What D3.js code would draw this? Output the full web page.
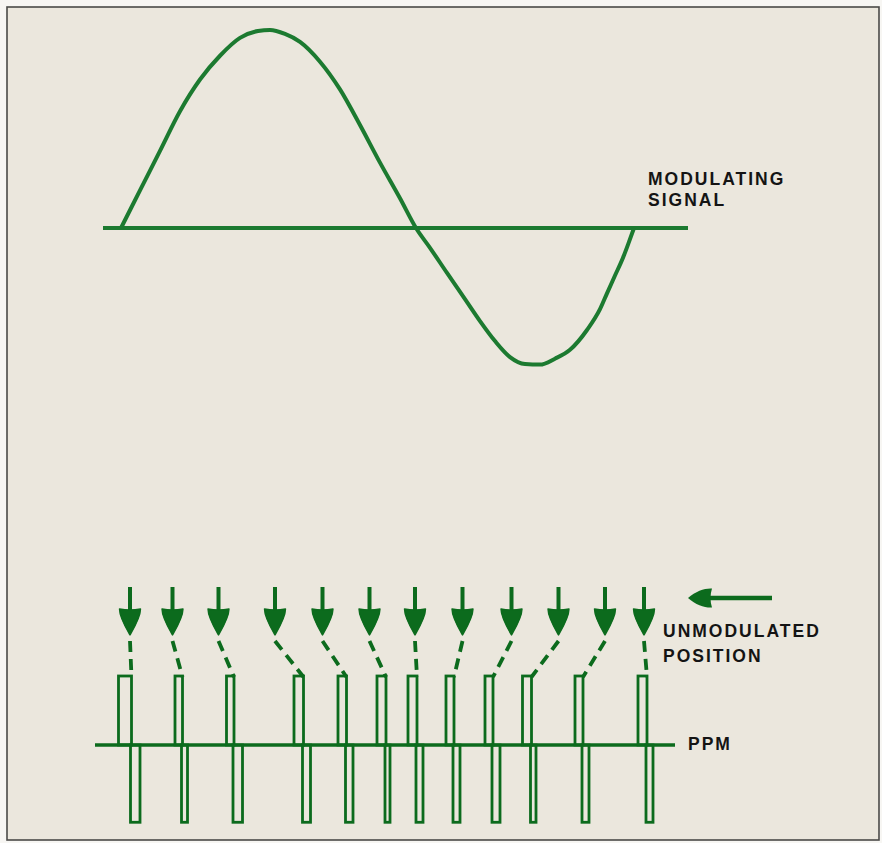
<!DOCTYPE html>
<html>
<head>
<meta charset="utf-8">
<script src="https://cdnjs.cloudflare.com/ajax/libs/d3/7.8.5/d3.min.js"></script>
<style>
  body { margin: 0; background: #f7f6f3; }
  .label { font-family: "Liberation Sans", Arial, sans-serif; font-weight: bold;
           font-size: 17.5px; letter-spacing: 2px; fill: #141414; }
</style>
</head>
<body>
<div id="chart"></div>
<script>
// Time axis in arbitrary units, signal level normalised to peak = 1

// Modulating signal: one cycle, sampled by eye
var sigT = [4.2, 8, 12, 16, 20, 24, 28, 31.6, 34, 37, 40, 44, 48, 52, 56, 60, 63.2,
            66, 69.4, 73, 76, 79, 82, 85, 88, 91, 94, 97.4, 100, 101.4, 103, 104.6, 105.8, 106.8];
var sigV = [0, 0.19, 0.39, 0.59, 0.75, 0.87, 0.96, 0.995, 1.0, 0.98, 0.94, 0.84, 0.70, 0.52, 0.33, 0.15, 0,
            -0.10, -0.227, -0.359, -0.47, -0.571, -0.652, -0.687, -0.69, -0.66, -0.615, -0.515, -0.41, -0.33, -0.24, -0.15, -0.07, 0];

// Unmodulated (clock) positions marked by the arrows
var clockT = [6.0, 14.5, 23.7, 35.0, 44.5, 53.9, 63.0, 72.5, 82.3, 91.7, 101.0, 108.8];

// PPM pulses: rise, edge (where + half ends and - half starts), end
var pulseStart = [3.7, 15.0, 25.3, 38.8, 47.6, 55.4, 61.6, 69.2, 77.0, 84.5, 95.0, 107.6];
var pulseEdge  = [6.3, 16.5, 26.8, 40.7, 49.3, 57.2, 63.4, 70.8, 78.6, 86.3, 96.6, 109.4];
var pulseEnd   = [8.0, 17.5, 28.5, 42.1, 50.6, 58.0, 64.6, 72.0, 80.0, 87.2, 97.8, 110.6];
var pulseHigh = 1, pulseLow = -1.12;

// axis extents
var sigAxis = [0.6, 117.6];
var ppmAxis = [-1, 115];

var labels = [
  { text: "MODULATING", x: 648, y: 185 },
  { text: "SIGNAL", x: 648, y: 206 },
  { text: "UNMODULATED", x: 663, y: 637 },
  { text: "POSITION", x: 663, y: 662 },
  { text: "PPM", x: 688, y: 750 }
];

var width = 882, height = 843;
var green = "#1c7a30", dark = "#0c6b1d";

var svg = d3.select("#chart").append("svg")
    .attr("width", width)
    .attr("height", height);

// Panel
svg.append("rect")
    .attr("x", 7).attr("y", 7)
    .attr("width", 872).attr("height", 833)
    .attr("fill", "#ebe7dd")
    .attr("stroke", "#4a4a48")
    .attr("stroke-width", 1.6);

var x = d3.scaleLinear().domain([0, 120]).range([100, 700]);
var ySig = d3.scaleLinear().domain([-1, 1]).range([426, 30]);
var yPpm = d3.scaleLinear().domain([-1, 1]).range([814, 676]);

// Signal baseline + curve
svg.append("line")
    .attr("x1", x(sigAxis[0])).attr("x2", x(sigAxis[1]))
    .attr("y1", ySig(0)).attr("y2", ySig(0))
    .attr("stroke", green).attr("stroke-width", 4);

var line = d3.line()
    .x(function(d) { return x(d[0]); })
    .y(function(d) { return ySig(d[1]); })
    .curve(d3.curveMonotoneX);

svg.append("path")
    .datum(d3.zip(sigT, sigV))
    .attr("d", line)
    .attr("fill", "none")
    .attr("stroke", green)
    .attr("stroke-width", 4)
    .attr("stroke-linejoin", "round");

// PPM baseline
svg.append("line")
    .attr("x1", x(ppmAxis[0])).attr("x2", x(ppmAxis[1]))
    .attr("y1", yPpm(0)).attr("y2", yPpm(0))
    .attr("stroke", dark).attr("stroke-width", 3.5);

var pulses = pulseStart.map(function(s, i) {
  return { s: s, e: pulseEdge[i], f: pulseEnd[i], c: clockT[i] };
});

var pg = svg.append("g")
    .attr("fill", "none")
    .attr("stroke", dark)
    .attr("stroke-width", 2.8);

// positive half of each pulse
pg.selectAll("rect.up")
    .data(pulses)
  .enter().append("rect")
    .attr("class", "up")
    .attr("x", function(d) { return x(d.s); })
    .attr("y", yPpm(pulseHigh))
    .attr("width", function(d) { return x(d.e) - x(d.s); })
    .attr("height", yPpm(0) - yPpm(pulseHigh));

// negative half
pg.selectAll("rect.down")
    .data(pulses)
  .enter().append("rect")
    .attr("class", "down")
    .attr("x", function(d) { return x(d.e) - 1; })
    .attr("y", yPpm(0))
    .attr("width", function(d) { return x(d.f) - x(d.e) + 1; })
    .attr("height", yPpm(pulseLow) - yPpm(0));

// dashed lines from clock position to the actual pulse
svg.selectAll("line.shift")
    .data(pulses)
  .enter().append("line")
    .attr("class", "shift")
    .attr("x1", function(d) { return x(d.c); })
    .attr("y1", 641)
    .attr("x2", function(d) { return x(d.e); })
    .attr("y2", 677)
    .attr("stroke", dark)
    .attr("stroke-width", 3.8)
    .attr("stroke-dasharray", "11,7");

// arrows marking the unmodulated positions
var arrows = svg.selectAll("g.arrow")
    .data(clockT)
  .enter().append("g")
    .attr("class", "arrow")
    .attr("transform", function(d) { return "translate(" + x(d) + ",0)"; });

arrows.append("line")
    .attr("x1", 0).attr("x2", 0)
    .attr("y1", 587).attr("y2", 612)
    .attr("stroke", dark).attr("stroke-width", 4);

arrows.append("path")
    .attr("d", "M-10.5,609 C-10.5,617 -4,628 0,635 C4,628 10.5,617 10.5,609 Q0,611 -10.5,609 Z")
    .attr("fill", dark)
    .attr("stroke", dark)
    .attr("stroke-width", 1.4)
    .attr("stroke-linejoin", "round");

// big arrow pointing at the label
svg.append("line")
    .attr("x1", 772).attr("x2", 704)
    .attr("y1", 598).attr("y2", 598)
    .attr("stroke", dark).attr("stroke-width", 4.5);

svg.append("path")
    .attr("d", "M688,598 C696,591 705,588 712,588.5 Q709,598 712,607.5 C705,608 696,605 688,598 Z")
    .attr("fill", dark);

// labels
svg.selectAll("text.label")
    .data(labels)
  .enter().append("text")
    .attr("class", "label")
    .attr("x", function(d) { return d.x; })
    .attr("y", function(d) { return d.y; })
    .text(function(d) { return d.text; });
</script>
</body>
</html>
